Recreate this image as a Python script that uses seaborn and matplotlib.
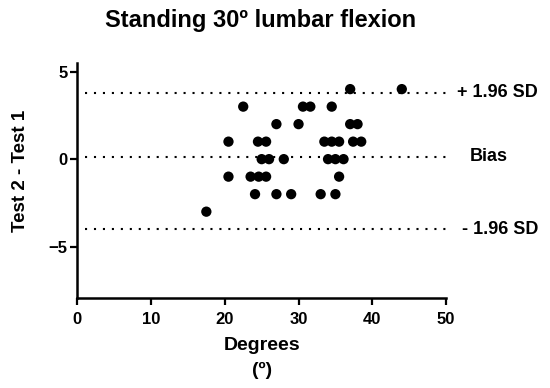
import numpy as np
import pandas as pd
import matplotlib
matplotlib.use("Agg")
import matplotlib.pyplot as plt
import seaborn as sns

# Bland-Altman data
degrees = [37, 44,
           22.5, 30.6, 31.6, 34.5,
           27, 30, 37, 38,
           20.5, 24.5, 25.6, 33.5, 34.5, 35.5, 37.4, 38.5,
           25, 26, 28, 34, 35, 36.1,
           20.5, 23.5, 24.6, 25.6, 35.5,
           24.1, 27, 29, 33, 35,
           17.5]
diff = [4, 4,
        3, 3, 3, 3,
        2, 2, 2, 2,
        1, 1, 1, 1, 1, 1, 1, 1,
        0, 0, 0, 0, 0, 0,
        -1, -1, -1, -1, -1,
        -2, -2, -2, -2, -2,
        -3]
ref_names = ["+ 1.96 SD", "Bias", "- 1.96 SD"]
ref_values = [3.8, 0.14, -4.0]

df = pd.DataFrame({"Degrees": degrees, "Diff": diff})

sns.set_style("ticks")
plt.rcParams['font.family'] = ['Liberation Sans', 'DejaVu Sans']
plt.rcParams['font.weight'] = 'bold'
plt.rcParams['text.color'] = 'black'
plt.rcParams['axes.labelcolor'] = 'black'
plt.rcParams['xtick.color'] = 'black'
plt.rcParams['ytick.color'] = 'black'
plt.rcParams['axes.edgecolor'] = 'black'

fig = plt.figure(figsize=(5.5, 3.88), dpi=100)
ax = fig.add_axes([0.1405, 0.232, 0.6705, 0.606])

sns.scatterplot(data=df, x="Degrees", y="Diff", ax=ax, color="black",
                s=55, edgecolor="none", zorder=3)

# label x positions (data units, right of the axes)
label_x = [57.0, 55.8, 57.4]
for name, v, lx in zip(ref_names, ref_values, label_x):
    ax.plot([1.0, 50.2], [v, v], color="black", linestyle=(0, (1, 3.3)),
            linewidth=1.5, clip_on=False)
    ax.text(lx, v, name, ha="center", va="center", fontsize=13,
            fontweight="bold", clip_on=False)

ax.set_xlim(0, 50)
ax.set_ylim(-7.93, 5.5)
ax.set_xticks([0, 10, 20, 30, 40, 50])
ax.set_yticks([-5, 0, 5])
ax.tick_params(axis="both", labelsize=12, width=1.6, length=5, direction="out")
ax.tick_params(axis="x", pad=5)
ax.tick_params(axis="y", pad=2)
for lab in ax.get_xticklabels() + ax.get_yticklabels():
    lab.set_fontweight("bold")
for side in ["left", "bottom"]:
    ax.spines[side].set_linewidth(1.8)
sns.despine(ax=ax)

ax.set_xlabel("Degrees\n(º)", fontsize=14, fontweight="bold", linespacing=1.65)
ax.xaxis.set_label_coords(0.5, -0.165)
ax.set_ylabel("Test 2 - Test 1", fontsize=13.5, fontweight="bold")
ax.yaxis.set_label_coords(-0.131, 0.54)
fig.text(0.473, 0.946, "Standing 30º lumbar flexion", ha="center", va="center",
         fontsize=17, fontweight="bold")

fig.savefig("out.png", dpi=100)
